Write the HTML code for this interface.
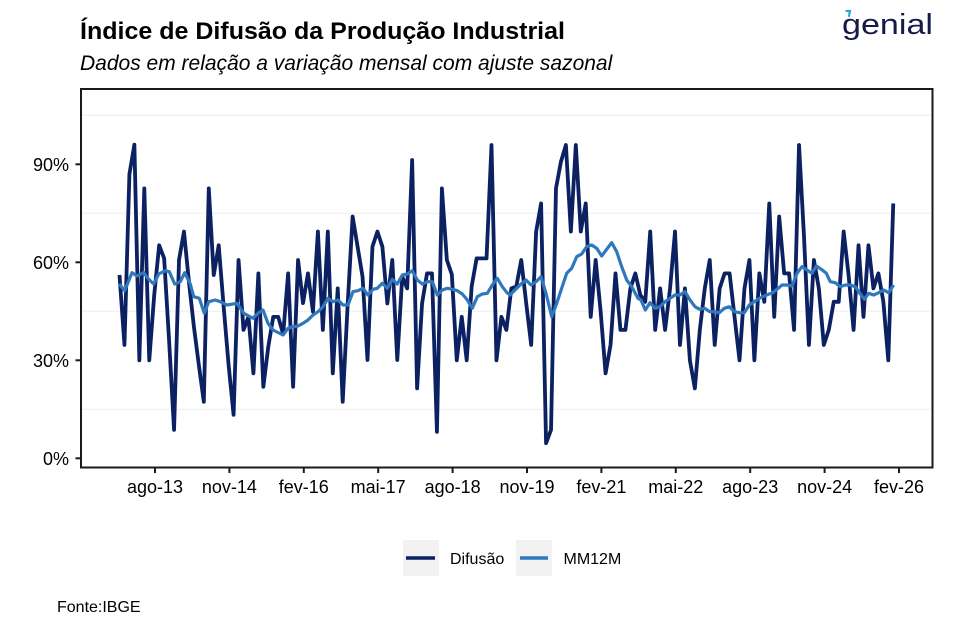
<!DOCTYPE html>
<html>
<head>
<meta charset="utf-8">
<style>
  html, body { margin: 0; padding: 0; background: #ffffff; }
  body { width: 956px; height: 638px; overflow: hidden; }
  svg { display: block; font-family: "Liberation Sans", Arial, sans-serif; }
</style>
</head>
<body>
<svg width="956" height="638" viewBox="0 0 956 638" xmlns="http://www.w3.org/2000/svg">
  <rect x="0" y="0" width="956" height="638" fill="#ffffff"/>

  <!-- Title / subtitle -->
  <text x="80" y="39" font-size="24" font-weight="bold" fill="#000" textLength="485" lengthAdjust="spacingAndGlyphs">Índice de Difusão da Produção Industrial</text>
  <text x="80" y="70" font-size="21" font-style="italic" fill="#000">Dados em relação a variação mensal com ajuste sazonal</text>

  <!-- Logo -->
  <text x="842" y="34" font-size="29" fill="#16194a" textLength="91" lengthAdjust="spacingAndGlyphs">genial</text>
  <path d="M846.5 11 L850 11 L849 16" stroke="#2ea3dc" stroke-width="2.2" fill="none" stroke-linecap="round"/>

  <!-- Gridlines (minor) -->
  <g stroke="#eeeeee" stroke-width="1">
    <line x1="82" y1="115.3" x2="931" y2="115.3"/>
    <line x1="82" y1="213.3" x2="931" y2="213.3"/>
    <line x1="82" y1="311.3" x2="931" y2="311.3"/>
    <line x1="82" y1="409.3" x2="931" y2="409.3"/>
  </g>

  <!-- Difusão series -->
  <g transform="translate(119.5 458.3) scale(4.96 -3.267)">
    <polyline fill="none" stroke="#0b2161" stroke-width="3.8" vector-effect="non-scaling-stroke" stroke-linejoin="round" stroke-linecap="butt"
      points="0,56.1 1,34.7 2,87 3,96 4,30 5,82.6 6,30 7,50 8,65.2 9,61.2 10,36 11,8.7 12,60.7 13,69.4 14,54 15,40.3 16,28.5 17,17.3 18,82.6 19,56.1 20,65.2 21,46.4 22,28.5 23,13.3 24,60.7 25,39.3 26,43.3 27,26 28,56.6 29,21.9 30,34.2 31,43.3 32,43.3 33,38 34,56.6 35,21.9 36,60.7 37,47.5 38,56.6 39,44.9 40,69.4 41,39.3 42,69.4 43,26 44,52 45,17.3 46,47 47,74 48,64.8 49,55.6 50,30.1 51,64.8 52,69.4 53,64.8 54,47.4 55,60.7 56,30.1 57,55.6 58,52 59,91.3 60,21.4 61,47.4 62,56.6 63,56.6 64,8.1 65,82.6 66,60.7 67,56.3 68,30 69,43.3 70,30 71,52.6 72,61.2 73,61.2 74,61.2 75,95.9 76,30 77,43.3 78,39.3 79,52 80,52.6 81,60.7 82,47.4 83,34.7 84,69.4 85,78 86,4.6 87,8.7 88,82.6 89,90.8 90,95.9 91,69.4 92,95.9 93,69.4 94,78 95,43.3 96,60.7 97,45 98,26 99,34.7 100,56.6 101,39.3 102,39.3 103,52 104,56.6 105,50 106,47.9 107,69.4 108,39.3 109,52 110,39.3 111,52 112,69.4 113,34.7 114,52 115,30 116,21.4 117,39.3 118,52 119,60.7 120,34.7 121,52 122,56.6 123,56.6 124,43.3 125,30 126,52 127,60.7 128,30 129,56.6 130,47.9 131,78 132,43.3 133,74 134,56.6 135,56.6 136,39.3 137,95.9 138,68 139,34.7 140,60.7 141,52 142,34.7 143,39.3 144,47.9 145,47.9 146,69.4 147,56 148,39.3 149,65.2 150,43.3 151,65.2 152,52 153,56.6 154,48 155,30 156,78"/>
  </g>

  <!-- MM12M series -->
  <polyline fill="none" stroke="#2f78bd" stroke-width="3.2" stroke-linejoin="round"
    points="119.3,284 124.7,290.7 132,272.7 137,276 143.7,272.7 148.7,279.3 153.7,284 158.7,274 165.3,270.7 169.3,271.7 174.7,284 180.3,281.7 184.7,272.7 190.3,284 193.7,296.7 199.3,298.3 204.3,313.3 208.7,301.7 215.3,300 220.3,301.7 227,305 237,303.3 243.7,313.3 253,318.3 258,313.3 263,310 268,323.3 273,330 283,335 288,328.3 293,326.7 298,326 303,323.3 308,320 313,315 318,311.7 323,306.7 328,298.3 333,301.7 338,300 343,305 348,305 353,291.7 358,290.7 363,288.3 368,295 373,289.3 377.3,288.3 382.3,283.3 387.3,288.3 392.3,279.3 397.3,284 402.3,275 407.3,274 412.3,270.7 417.3,280 422.3,284 427.3,281.7 432.3,281.7 437.3,295 442.3,290 447.3,288.3 452.3,289.3 457.3,290.7 462.3,294 467.3,300 472.3,308.3 477.3,296.7 482.3,294 487.3,293.3 492.3,285 497.3,278.3 502.3,286.7 507,292.7 510,295 515,290 521,284 526,280 531,285 536,281.7 541,276.7 546,293.3 551.7,316.7 556.7,303.3 561.7,288.3 566.7,273.3 571.7,268.3 576.7,256.7 581.7,254 586.7,246.7 591.7,245 596.7,248.3 601.7,256 606.7,249.3 611.7,242.7 616.7,251.7 621.7,266.7 626.7,280 631.7,286.7 638,298.3 641,300 645.3,310 650,302.7 655,308.3 660,306.7 665,301.7 670,298.3 675,295 680,295 685,291.7 690,300 695,306.7 699.7,309.3 704.7,308.3 709.7,311.7 714.7,311.7 719.3,312.7 724.3,308.3 729.3,306.7 734.3,311.7 739.3,312.7 744.3,312.7 749.3,305 754.3,301.7 759.3,298.3 764.3,296 769,294 772,293.3 777,289.3 782,285 787,285 792,286 797,273.3 802,266.7 807,270 812,273.3 816.3,266 821.3,269.3 826.3,273.3 830.3,281.7 835.3,282.7 840.3,286.7 845.3,285 850.3,285 855.3,286.7 860.3,294 864.3,299.3 868.7,293.3 873.7,295 878.7,292.7 883.7,290 888.7,292.7 893.7,285"/>

  <!-- Panel border -->
  <rect x="81" y="89" width="851.5" height="378.5" fill="none" stroke="#1a1a1a" stroke-width="2"/>

  <!-- Y ticks & labels -->
  <g stroke="#1a1a1a" stroke-width="2">
    <line x1="75.5" y1="458.3" x2="81" y2="458.3"/>
    <line x1="75.5" y1="360.3" x2="81" y2="360.3"/>
    <line x1="75.5" y1="262.3" x2="81" y2="262.3"/>
    <line x1="75.5" y1="164.3" x2="81" y2="164.3"/>
  </g>
  <g font-size="18" fill="#000" text-anchor="end">
    <text x="69" y="464.8">0%</text>
    <text x="69" y="366.8">30%</text>
    <text x="69" y="268.8">60%</text>
    <text x="69" y="170.8">90%</text>
  </g>

  <!-- X ticks & labels -->
  <g stroke="#1a1a1a" stroke-width="2">
    <line x1="155" y1="467.5" x2="155" y2="473"/>
    <line x1="229.4" y1="467.5" x2="229.4" y2="473"/>
    <line x1="303.8" y1="467.5" x2="303.8" y2="473"/>
    <line x1="378.2" y1="467.5" x2="378.2" y2="473"/>
    <line x1="452.6" y1="467.5" x2="452.6" y2="473"/>
    <line x1="527" y1="467.5" x2="527" y2="473"/>
    <line x1="601.4" y1="467.5" x2="601.4" y2="473"/>
    <line x1="675.8" y1="467.5" x2="675.8" y2="473"/>
    <line x1="750.2" y1="467.5" x2="750.2" y2="473"/>
    <line x1="824.6" y1="467.5" x2="824.6" y2="473"/>
    <line x1="899" y1="467.5" x2="899" y2="473"/>
  </g>
  <g font-size="18" fill="#000" text-anchor="middle">
    <text x="155" y="493">ago-13</text>
    <text x="229.4" y="493">nov-14</text>
    <text x="303.8" y="493">fev-16</text>
    <text x="378.2" y="493">mai-17</text>
    <text x="452.6" y="493">ago-18</text>
    <text x="527" y="493">nov-19</text>
    <text x="601.4" y="493">fev-21</text>
    <text x="675.8" y="493">mai-22</text>
    <text x="750.2" y="493">ago-23</text>
    <text x="824.6" y="493">nov-24</text>
    <text x="899" y="493">fev-26</text>
  </g>

  <!-- Legend -->
  <rect x="403" y="540" width="36" height="36" fill="#f2f2f2"/>
  <line x1="406" y1="558" x2="435" y2="558" stroke="#0b2161" stroke-width="3.5"/>
  <text x="450" y="563.8" font-size="16" fill="#000">Difusão</text>
  <rect x="516" y="540" width="36" height="36" fill="#f2f2f2"/>
  <line x1="520" y1="558" x2="548" y2="558" stroke="#2f78bd" stroke-width="3.5"/>
  <text x="563.5" y="563.8" font-size="16" fill="#000">MM12M</text>

  <!-- Source -->
  <text x="57" y="612" font-size="16" fill="#000">Fonte:IBGE</text>
</svg>
</body>
</html>
